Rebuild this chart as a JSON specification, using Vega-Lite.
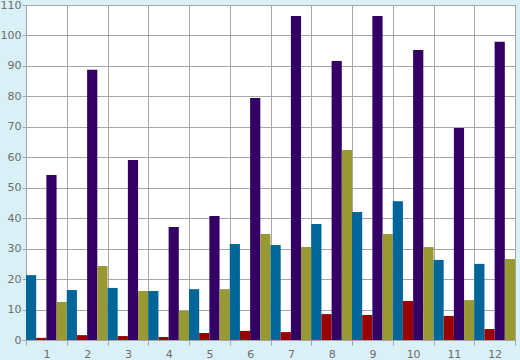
{
  "$schema": "https://vega.github.io/schema/vega-lite/v6.json",
  "autosize": {"type": "none"},
  "padding": {"left": 26, "top": 5, "right": 5, "bottom": 20},
  "width": 489,
  "height": 335,
  "background": "#d9f0f7",
  "config": {
    "view": {"fill": "#ffffff", "stroke": "#a6a6a6", "strokeWidth": 1},
    "font": "DejaVu Sans"
  },
  "data": {
    "values": [
      {"g": "1", "s": "A", "v": 21.3}, {"g": "1", "s": "B", "v": 0.7}, {"g": "1", "s": "C", "v": 54.2}, {"g": "1", "s": "D", "v": 12.5},
      {"g": "2", "s": "A", "v": 16.4}, {"g": "2", "s": "B", "v": 1.6}, {"g": "2", "s": "C", "v": 88.7}, {"g": "2", "s": "D", "v": 24.3},
      {"g": "3", "s": "A", "v": 17.1}, {"g": "3", "s": "B", "v": 1.3}, {"g": "3", "s": "C", "v": 59.1}, {"g": "3", "s": "D", "v": 16.1},
      {"g": "4", "s": "A", "v": 16.1}, {"g": "4", "s": "B", "v": 1.0}, {"g": "4", "s": "C", "v": 37.1}, {"g": "4", "s": "D", "v": 9.6},
      {"g": "5", "s": "A", "v": 16.7}, {"g": "5", "s": "B", "v": 2.3}, {"g": "5", "s": "C", "v": 40.7}, {"g": "5", "s": "D", "v": 16.7},
      {"g": "6", "s": "A", "v": 31.5}, {"g": "6", "s": "B", "v": 3.0}, {"g": "6", "s": "C", "v": 79.5}, {"g": "6", "s": "D", "v": 34.8},
      {"g": "7", "s": "A", "v": 31.2}, {"g": "7", "s": "B", "v": 2.6}, {"g": "7", "s": "C", "v": 106.4}, {"g": "7", "s": "D", "v": 30.5},
      {"g": "8", "s": "A", "v": 38.1}, {"g": "8", "s": "B", "v": 8.5}, {"g": "8", "s": "C", "v": 91.6}, {"g": "8", "s": "D", "v": 62.4},
      {"g": "9", "s": "A", "v": 42.0}, {"g": "9", "s": "B", "v": 8.2}, {"g": "9", "s": "C", "v": 106.4}, {"g": "9", "s": "D", "v": 34.8},
      {"g": "10", "s": "A", "v": 45.6}, {"g": "10", "s": "B", "v": 12.8}, {"g": "10", "s": "C", "v": 95.2}, {"g": "10", "s": "D", "v": 30.5},
      {"g": "11", "s": "A", "v": 26.3}, {"g": "11", "s": "B", "v": 7.9}, {"g": "11", "s": "C", "v": 69.6}, {"g": "11", "s": "D", "v": 13.1},
      {"g": "12", "s": "A", "v": 25.0}, {"g": "12", "s": "B", "v": 3.6}, {"g": "12", "s": "C", "v": 97.9}, {"g": "12", "s": "D", "v": 26.6}
    ]
  },
  "mark": {"type": "bar"},
  "encoding": {
    "x": {
      "field": "g", "type": "ordinal", "sort": null,
      "scale": {"paddingInner": 0, "paddingOuter": 0},
      "axis": {
        "title": null, "labelAngle": 0, "tickBand": "extent",
        "grid": true, "gridColor": "#a6a6a6", "gridOpacity": 1, "gridWidth": 1,
        "domain": false, "ticks": true, "tickColor": "#a6a6a6", "tickSize": 5,
        "labelColor": "#6e6e6e", "labelFontSize": 11, "labelPadding": 3
      }
    },
    "xOffset": {"field": "s", "type": "nominal", "sort": ["A", "B", "C", "D"], "scale": {"paddingInner": 0, "paddingOuter": 0}},
    "y": {
      "field": "v", "type": "quantitative",
      "scale": {"domain": [0, 110], "nice": false},
      "axis": {
        "title": null, "values": [0, 10, 20, 30, 40, 50, 60, 70, 80, 90, 100, 110],
        "grid": true, "gridColor": "#a6a6a6", "gridOpacity": 1, "gridWidth": 1,
        "domain": false, "tickColor": "#a6a6a6", "tickSize": 4,
        "labelColor": "#6e6e6e", "labelFontSize": 11, "labelPadding": 1
      }
    },
    "color": {
      "field": "s", "type": "nominal", "legend": null,
      "scale": {"domain": ["A", "B", "C", "D"], "range": ["#006699", "#990000", "#330066", "#999933"]}
    }
  }
}
